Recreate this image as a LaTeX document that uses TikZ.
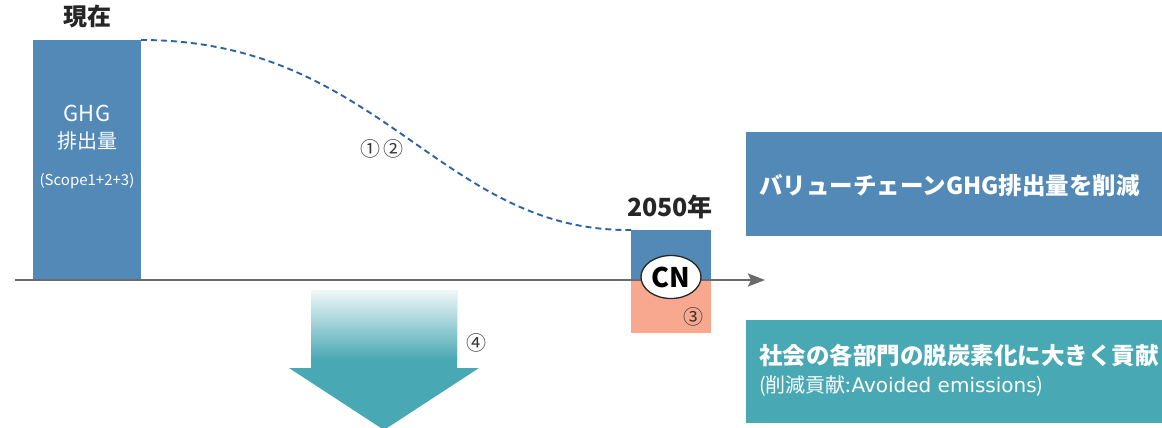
\documentclass[tikz,border=0pt]{standalone}
\usepackage{fontspec}
\setmainfont{Noto Sans CJK JP}
\newfontfamily\latinwide{DejaVu Sans}
\usetikzlibrary{shapes.geometric,arrows.meta}
\definecolor{barblue}{HTML}{5289B6}
\definecolor{tealc}{HTML}{48A8B3}
\definecolor{salmon}{HTML}{F7A88E}
\definecolor{axisgray}{HTML}{6B6B6B}
\definecolor{dashblue}{HTML}{2F62A0}
\tikzset{
  block/.style={anchor=north west, inner sep=0pt, outer sep=0pt},
  wtext/.style={text=white, inner sep=0pt},
  btext/.style={text=black!85, inner sep=0pt},
  num/.style={text=black!80, inner sep=0pt, font=\fontsize{20}{20}\selectfont},
}
\begin{document}
\begin{tikzpicture}[x=1pt,y=-1pt]
\clip (0,0) rectangle (1162,428);
\fill[white] (0,0) rectangle (1162,428);
% left bar
\node[block, fill=barblue, minimum width=108pt, minimum height=239pt] (bar) at (33,40) {};
\node[btext, font=\fontsize{24}{24}\selectfont\bfseries] (now) at (87,16) {現在};
\node[wtext, font=\fontsize{22}{22}\selectfont] (ghg) at (87,113) {GHG};
\node[wtext, font=\fontsize{20}{20}\selectfont] (emis) at (87,141) {排出量};
\node[wtext, font=\fontsize{15}{15}\selectfont] (scope) at (87,181) {(Scope1+2+3)};
% 2050 box
\node[block, fill=barblue, minimum width=80pt, minimum height=50pt] (top2050) at (631,230) {};
\node[block, fill=salmon, minimum width=80pt, minimum height=53pt] (bot2050) at (631,280) {};
\node[btext, font=\fontsize{25}{25}\selectfont\bfseries] (y2050) at (670,207) {2050年};
% axis
\coordinate (axs) at (15,280);
\coordinate (axe) at (765,280);
\draw[axisgray, line width=2.2pt, -{Stealth[length=17pt,width=13pt,inset=3pt]}] (axs) -- (axe);
% CN ellipse
\node[ellipse, draw=black!85, line width=1.3pt, fill=white, minimum width=60pt, minimum height=43pt, inner sep=0pt, font=\fontsize{27}{27}\selectfont\bfseries] (cn) at (671,277) {CN};
\node[num] (n3) at (693,317) {③};
% dashed curve
\draw[dashblue, line width=1.9pt, dash pattern=on 6pt off 4pt] (bar.north east) .. controls (380,40) and (440,232) .. (top2050.north west);
\node[num] (n12) at (382,149) {①\,②};
% right boxes
\node[block, fill=barblue, minimum width=430pt, minimum height=104pt] (rbox) at (746,132) {};
\node[wtext, anchor=west, font=\fontsize{23.5}{23.5}\selectfont\bfseries] (rtext) at (759,186) {バリューチェーンGHG排出量を削減};
\node[block, fill=tealc, minimum width=430pt, minimum height=103pt] (tbox) at (746,320) {};
\node[wtext, anchor=west, font=\fontsize{23.5}{23.5}\selectfont\bfseries] (t1) at (759,355) {社会の各部門の脱炭素化に大きく貢献};
\node[wtext, anchor=west, font=\fontsize{20}{20}\selectfont] (t2) at (759,386) {(削減貢献:{\latinwide Avoided emissions})};
% down arrow
\fill[tealc] (311,290) -- (457,290) -- (457,368) -- (479,368) -- (384,430) -- (289,368) -- (311,368) -- cycle;
\shade[top color=tealc!8, bottom color=tealc] (311,290) rectangle (457,360);
\coordinate (arrowtop) at (384,290);
\node[num] (n4) at (476,343) {④};
\end{tikzpicture}
\end{document}
